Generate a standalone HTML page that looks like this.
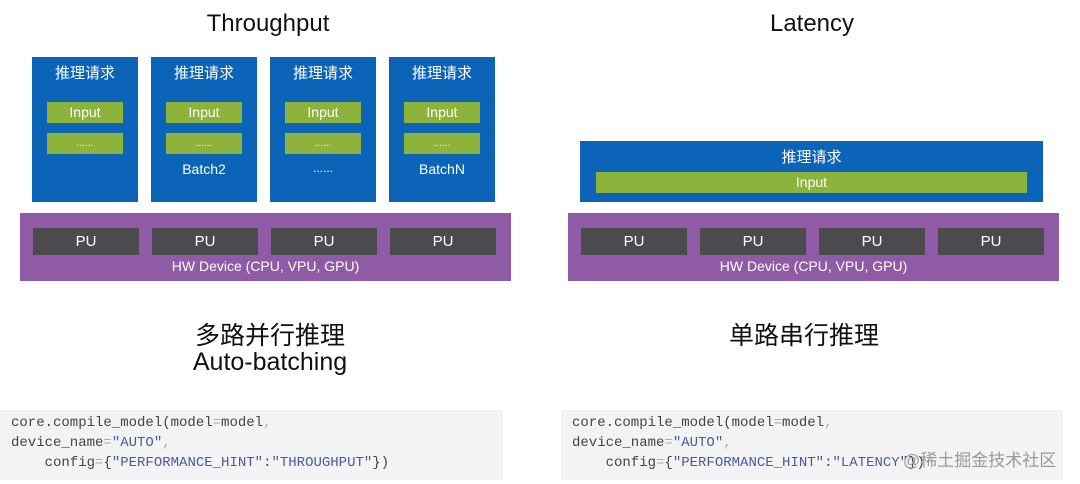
<!DOCTYPE html>
<html><head><meta charset="utf-8"><style>
body{margin:0;width:1080px;height:484px;background:#fff;position:relative;overflow:hidden;font-family:"Liberation Sans","Noto Sans CJK SC",sans-serif}
div{position:absolute;box-sizing:border-box}
.b{background:#0b64b8;color:#fff;text-align:center}
.g{background:#8cb33c;color:#fff;text-align:center;font-size:14px;line-height:21px}
.p{background:#8f5ba6}
.pu{background:#4b4b4d;color:#fff;text-align:center;font-size:15px;line-height:27px;top:228px;width:106px;height:27px}
.t{color:#fff;font-size:15px;text-align:center}
.h{color:#111;font-size:24px;text-align:center}
.code{background:#f3f3f3;font-family:"Liberation Mono",monospace;font-size:14px;line-height:20px;color:#444;padding:3px 11px;white-space:pre}
.s{color:#4a5aa0}.e{color:#8fbf8f}
</style></head><body>
<div class="h" style="left:168px;top:10px;width:200px">Throughput</div>
<div class="h" style="left:712px;top:10px;width:200px">Latency</div>

<div class="b" style="left:32px;top:57px;width:106px;height:145px"><div class="t" style="left:0;top:5px;width:106px">推理请求</div></div>
<div class="b" style="left:151px;top:57px;width:106px;height:145px"><div class="t" style="left:0;top:5px;width:106px">推理请求</div><div class="t" style="left:0;top:104px;width:106px;font-size:14px">Batch2</div></div>
<div class="b" style="left:270px;top:57px;width:106px;height:145px"><div class="t" style="left:0;top:5px;width:106px">推理请求</div><div class="t" style="left:0;top:104px;width:106px;font-size:12px">......</div></div>
<div class="b" style="left:389px;top:57px;width:106px;height:145px"><div class="t" style="left:0;top:5px;width:106px">推理请求</div><div class="t" style="left:0;top:104px;width:106px;font-size:14px">BatchN</div></div>

<div class="g" style="left:47px;top:102px;width:76px;height:21px">Input</div>
<div class="g" style="left:166px;top:102px;width:76px;height:21px">Input</div>
<div class="g" style="left:285px;top:102px;width:76px;height:21px">Input</div>
<div class="g" style="left:404px;top:102px;width:76px;height:21px">Input</div>
<div class="g" style="left:47px;top:133px;width:76px;height:21px;font-size:10px">......</div>
<div class="g" style="left:166px;top:133px;width:76px;height:21px;font-size:10px">......</div>
<div class="g" style="left:285px;top:133px;width:76px;height:21px;font-size:10px">......</div>
<div class="g" style="left:404px;top:133px;width:76px;height:21px;font-size:10px">......</div>

<div class="p" style="left:20px;top:213px;width:491px;height:68px"></div>
<div class="pu" style="left:33px">PU</div><div class="pu" style="left:152px">PU</div><div class="pu" style="left:271px">PU</div><div class="pu" style="left:390px">PU</div>
<div class="t" style="left:20px;top:258px;width:491px;font-size:14px">HW Device (CPU, VPU, GPU)</div>

<div class="b" style="left:580px;top:141px;width:463px;height:61px"><div class="t" style="left:0;top:5px;width:463px">推理请求</div></div>
<div class="g" style="left:596px;top:172px;width:431px;height:21px">Input</div>
<div class="p" style="left:568px;top:213px;width:491px;height:68px"></div>
<div class="pu" style="left:581px">PU</div><div class="pu" style="left:700px">PU</div><div class="pu" style="left:819px">PU</div><div class="pu" style="left:938px">PU</div>
<div class="t" style="left:568px;top:258px;width:491px;font-size:14px">HW Device (CPU, VPU, GPU)</div>

<div class="h" style="left:120px;top:316px;width:300px;font-size:25px">多路并行推理</div>
<div class="h" style="left:120px;top:348px;width:300px;font-size:25px">Auto-batching</div>
<div class="h" style="left:654px;top:316px;width:300px;font-size:25px">单路串行推理</div>

<div class="code" style="left:0;top:410px;width:503px;height:70px">core.compile_model(model<span class="e">=</span>model<span class="e">,</span>
device_name<span class="e">=</span><span class="s">"AUTO"</span><span class="e">,</span>
    config<span class="e">=</span>{<span class="s">"PERFORMANCE_HINT"</span>:<span class="s">"THROUGHPUT"</span>})</div>
<div class="code" style="left:561px;top:410px;width:502px;height:70px">core.compile_model(model<span class="e">=</span>model<span class="e">,</span>
device_name<span class="e">=</span><span class="s">"AUTO"</span><span class="e">,</span>
    config<span class="e">=</span>{<span class="s">"PERFORMANCE_HINT"</span>:<span class="s">"LATENCY"</span>})</div>
<div style="left:903px;top:446px;color:#999;font-size:17px">@稀土掘金技术社区</div>
</body></html>
